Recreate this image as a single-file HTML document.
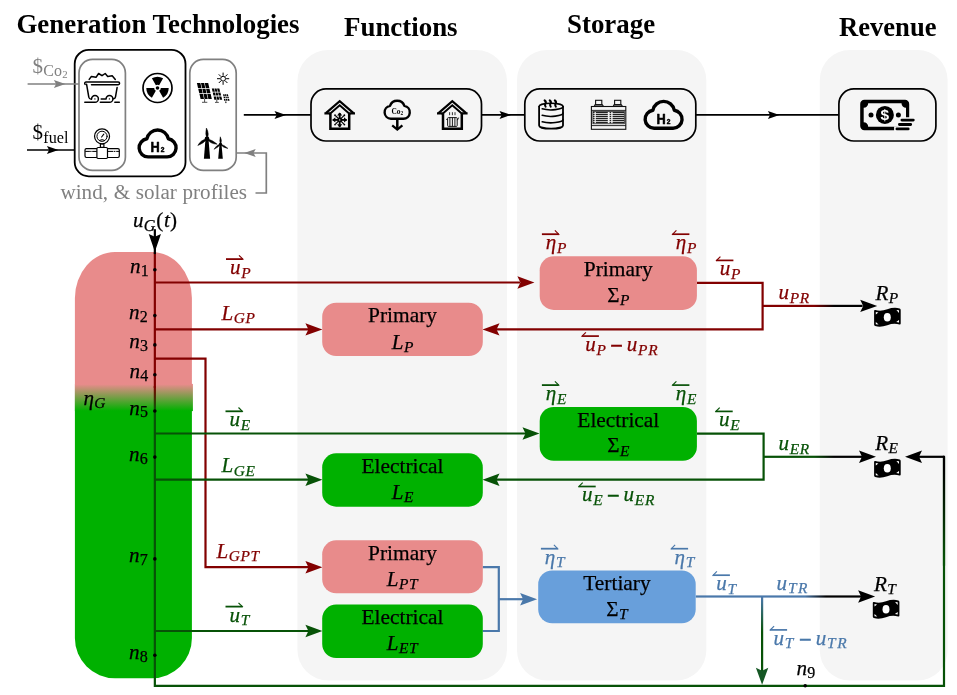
<!DOCTYPE html>
<html lang="en"><head><meta charset="utf-8"><title>Energy system diagram</title>
<style>
html,body{margin:0;padding:0;background:#fff;}
body{width:957px;height:695px;overflow:hidden;}
svg{display:block;will-change:transform;font-family:"Liberation Serif","DejaVu Serif",serif;}
.sans{font-family:"Liberation Sans","DejaVu Sans",sans-serif;}
</style></head><body>
<svg width="957" height="695" viewBox="0 0 957 695">
<defs>
<linearGradient id="gPill" gradientUnits="userSpaceOnUse" x1="0" y1="384.3" x2="0" y2="410.8">
<stop offset="0" stop-color="#e88b8b"/><stop offset="1" stop-color="#00b100"/></linearGradient>
<linearGradient id="gLine" gradientUnits="userSpaceOnUse" x1="0" y1="386" x2="0" y2="410">
<stop offset="0" stop-color="#820000"/><stop offset="1" stop-color="#075207"/></linearGradient>
<linearGradient id="gP" gradientUnits="userSpaceOnUse" x1="814" y1="0" x2="834" y2="0">
<stop offset="0" stop-color="#820000"/><stop offset="1" stop-color="#000"/></linearGradient>
<linearGradient id="gE" gradientUnits="userSpaceOnUse" x1="814" y1="0" x2="834" y2="0">
<stop offset="0" stop-color="#075207"/><stop offset="1" stop-color="#000"/></linearGradient>
<linearGradient id="gT" gradientUnits="userSpaceOnUse" x1="805" y1="0" x2="826" y2="0">
<stop offset="0" stop-color="#4a78aa"/><stop offset="1" stop-color="#000"/></linearGradient>
<linearGradient id="gTd" gradientUnits="userSpaceOnUse" x1="0" y1="598" x2="0" y2="632">
<stop offset="0" stop-color="#4a78aa"/><stop offset="1" stop-color="#075207"/></linearGradient>
<linearGradient id="gR" gradientUnits="userSpaceOnUse" x1="0" y1="470" x2="0" y2="560">
<stop offset="0" stop-color="#000"/><stop offset="1" stop-color="#075207"/></linearGradient>
</defs>
<rect x="297.4" y="50" width="209.60000000000002" height="630.6" rx="31" ry="31" fill="#f5f5f5"/>
<rect x="517" y="50" width="189.29999999999995" height="630.6" rx="30" ry="30" fill="#f5f5f5"/>
<rect x="819.8" y="50" width="127.80000000000007" height="630.6" rx="30" ry="30" fill="#f5f5f5"/>
<text x="16.4" y="33.1" font-size="26.9" font-weight="bold">Generation Technologies</text>
<text x="344" y="35.6" font-size="26.9" font-weight="bold">Functions</text>
<text x="567" y="33.1" font-size="26.9" font-weight="bold">Storage</text>
<text x="839" y="35.6" font-size="26.6" font-weight="bold">Revenue</text>
<rect x="74.7" y="49.9" width="110.8" height="126.4" rx="14" ry="14" fill="none" stroke="#000" stroke-width="1.8"/>
<rect x="79" y="59.4" width="46.400000000000006" height="111.0" rx="13.5" ry="13.5" fill="none" stroke="#808080" stroke-width="1.7"/>
<rect x="189.8" y="59.4" width="46.39999999999998" height="111.0" rx="13.5" ry="13.5" fill="none" stroke="#808080" stroke-width="1.7"/>
<rect x="311" y="88.9" width="170.5" height="52.099999999999994" rx="15" ry="15" fill="none" stroke="#000" stroke-width="1.7"/>
<rect x="524.8" y="88.9" width="171.0" height="52.099999999999994" rx="15" ry="15" fill="none" stroke="#000" stroke-width="1.7"/>
<rect x="838.9" y="88.9" width="97.0" height="52.099999999999994" rx="15" ry="15" fill="none" stroke="#000" stroke-width="1.7"/>
<path d="M27.6 84H79" fill="none" stroke="#808080" stroke-width="1.7" />
<polygon points="65.4,84.0 53.9,80.0 56.1,84.0 53.9,88.0" fill="#808080"/>
<path d="M27 150H74.7" fill="none" stroke="#000" stroke-width="1.7" />
<polygon points="58.4,150.0 46.9,146.0 49.1,150.0 46.9,154.0" fill="#000"/>
<path d="M243.8 114.9H310.7" fill="none" stroke="#000" stroke-width="1.7" />
<polygon points="286.0,114.9 274.5,110.9 276.7,114.9 274.5,118.9" fill="#000"/>
<path d="M481.5 114.9H524.6" fill="none" stroke="#000" stroke-width="1.7" />
<polygon points="511.0,114.9 499.5,110.9 501.7,114.9 499.5,118.9" fill="#000"/>
<path d="M695.6 114.9H838.6" fill="none" stroke="#000" stroke-width="1.7" />
<polygon points="779.4,114.9 767.9,110.9 770.1,114.9 767.9,118.9" fill="#000"/>
<path d="M255.5 193H266.3V153H236.2" fill="none" stroke="#808080" stroke-width="1.7" />
<polygon points="244.2,153.0 255.7,157.0 253.5,153.0 255.7,149.0" fill="#808080"/>
<text x="32.6" y="73.1" fill="#808080" font-size="21">$<tspan font-size="16" dy="3.2" dx="0.2">Co</tspan><tspan font-size="10.8" dy="2.1" dx="0.4">2</tspan></text>
<text x="32.6" y="139.3" fill="#000" font-size="21">$<tspan font-size="16.2" dy="3.2" dx="0.2">fuel</tspan></text>
<text x="60.5" y="199.3" font-size="21.1" word-spacing="0.45" fill="#808080">wind, &amp; solar profiles</text>
<g fill="none" stroke="#000" stroke-width="1.5" stroke-linecap="round" stroke-linejoin="round"><path d="M89.2 79.4L91.4 76.4L96 77.3L98.6 73.5L102 75.7L105.2 73.5L107.7 76.4L112.2 75.7L115.3 79.4"/><path d="M91.5 84.7H118.2A1.4 1.4 0 0 0 118.2 81.9H86A1.4 1.4 0 0 0 85.2 84.4"/><path d="M86.6 84.3L88.8 97.2Q89.3 99.3 91.3 99.3"/><path d="M117.1 87.6L115.5 96.8Q115.2 98.6 113.6 98.8"/><path d="M84.8 102.3H95A3.4 3.4 0 1 0 91.6 98.9"/><path d="M100.3 102.3H109.5A3.4 3.4 0 1 0 106.1 98.9H101.2"/><path d="M114.8 102.3H119.3"/></g><circle cx="94.9" cy="98.9" r="0.7" fill="#000"/><circle cx="109.4" cy="98.9" r="0.7" fill="#000"/>
<circle cx="157.5" cy="88.0" r="14.5" fill="none" stroke="#000" stroke-width="1.7"/><circle cx="157.5" cy="88.0" r="1.8" fill="#000"/><path d="M155.85 85.14L151.90 78.30A11.2 11.2 0 0 1 163.10 78.30L159.15 85.14A3.3 3.3 0 0 0 155.85 85.14Z" fill="#000"/><path d="M160.80 88.00L168.70 88.00A11.2 11.2 0 0 1 163.10 97.70L159.15 90.86A3.3 3.3 0 0 0 160.80 88.00Z" fill="#000"/><path d="M155.85 90.86L151.90 97.70A11.2 11.2 0 0 1 146.30 88.00L154.20 88.00A3.3 3.3 0 0 0 155.85 90.86Z" fill="#000"/>
<g fill="none" stroke="#000" stroke-width="1.2" stroke-linejoin="round" stroke-linecap="round"><circle cx="102.05" cy="136.3" r="7.5"/><circle cx="102.05" cy="136.3" r="5.1" stroke-width="1"/><path d="M101.6 137L103.8 134.2" stroke-width="1.1"/><path d="M99.6 140.3Q102.05 138.8 104.5 140.3" stroke-width="1"/><path d="M100.4 144H103.9V147.4H100.4Z"/><rect x="85" y="148.7" width="34.3" height="8.8" rx="1.4"/><path d="M85.6 151.4H89.5M90.6 151.4H91.2M92.6 151.4H96.5M108 151.4H113M114.4 151.4H115M116.6 151.4H118.8" stroke-width="1"/><rect x="96.9" y="147.5" width="10.6" height="11" rx="1.2" fill="#fff"/></g>
<g transform="translate(0,0.0)"><path d="M148.1 156.9H167.1A9.1 9.1 0 0 0 168.3 138.8A10.9 10.9 0 0 0 146.9 138.8A9.1 9.1 0 0 0 148.1 156.9Z" fill="#fff" stroke="#000" stroke-width="3.4" stroke-linejoin="round"/><text class="sans" transform="translate(150.6,152.4) scale(0.92,1)" font-size="13.9" font-weight="bold" fill="#000" stroke="#000" stroke-width="0.55" stroke-linejoin="round">H<tspan font-size="7.2" dx="0.9">2</tspan></text></g>
<g transform="translate(506,-28.599999999999994)"><path d="M148.1 156.9H167.1A9.1 9.1 0 0 0 168.3 138.8A10.9 10.9 0 0 0 146.9 138.8A9.1 9.1 0 0 0 148.1 156.9Z" fill="#f5f5f5" stroke="#000" stroke-width="3.4" stroke-linejoin="round"/><text class="sans" transform="translate(150.6,152.4) scale(0.92,1)" font-size="13.9" font-weight="bold" fill="#000" stroke="#000" stroke-width="0.55" stroke-linejoin="round">H<tspan font-size="7.2" dx="0.9">2</tspan></text></g>
<polygon points="196.90,83.00 200.37,83.00 201.49,87.88 198.03,87.88" fill="#000"/><polygon points="200.97,83.00 204.13,83.00 205.25,87.88 202.09,87.88" fill="#000"/><polygon points="204.73,83.00 208.20,83.00 209.30,87.88 205.85,87.88" fill="#000"/><polygon points="198.23,88.72 201.69,88.72 202.71,93.18 199.27,93.18" fill="#000"/><polygon points="202.29,88.72 205.44,88.72 206.46,93.18 203.31,93.18" fill="#000"/><polygon points="206.04,88.72 209.50,88.72 210.50,93.18 207.06,93.18" fill="#000"/><polygon points="199.47,94.02 202.91,94.02 204.03,98.90 200.60,98.90" fill="#000"/><polygon points="203.51,94.02 206.65,94.02 207.77,98.90 204.63,98.90" fill="#000"/><polygon points="207.25,94.02 210.70,94.02 211.80,98.90 208.37,98.90" fill="#000"/><polygon points="211.80,88.40 214.05,88.40 214.86,91.82 212.58,91.82" fill="#000"/><polygon points="214.55,88.40 216.55,88.40 217.39,91.82 215.36,91.82" fill="#000"/><polygon points="217.05,88.40 219.30,88.40 220.17,91.82 217.89,91.82" fill="#000"/><polygon points="212.75,92.58 215.04,92.58 215.75,95.62 213.45,95.62" fill="#000"/><polygon points="215.54,92.58 217.57,92.58 218.32,95.62 216.27,95.62" fill="#000"/><polygon points="218.08,92.58 220.36,92.58 221.14,95.62 218.83,95.62" fill="#000"/><polygon points="213.62,96.38 215.93,96.38 216.74,99.80 214.40,99.80" fill="#000"/><polygon points="216.45,96.38 218.50,96.38 219.34,99.80 217.26,99.80" fill="#000"/><polygon points="219.02,96.38 221.33,96.38 222.20,99.80 219.86,99.80" fill="#000"/><polygon points="223.10,94.30 224.48,94.30 224.84,96.16 223.42,96.16" fill="#000"/><polygon points="224.92,94.30 226.08,94.30 226.50,96.16 225.30,96.16" fill="#000"/><polygon points="226.52,94.30 227.90,94.30 228.39,96.16 226.96,96.16" fill="#000"/><polygon points="223.52,96.77 224.96,96.77 225.26,98.33 223.78,98.33" fill="#000"/><polygon points="225.43,96.77 226.64,96.77 226.99,98.33 225.75,98.33" fill="#000"/><polygon points="227.10,96.77 228.55,96.77 228.95,98.33 227.47,98.33" fill="#000"/><polygon points="223.88,98.94 225.38,98.94 225.75,100.80 224.20,100.80" fill="#000"/><polygon points="225.87,98.94 227.13,98.94 227.55,100.80 226.25,100.80" fill="#000"/><polygon points="227.61,98.94 229.11,98.94 229.60,100.80 228.05,100.80" fill="#000"/><g fill="none" stroke="#222" stroke-width="0.8"><path d="M204.6 99V102M202 102.3H207.3M216.8 100V102M215 102.4H218.8M225.8 101.2V102.3M225 102.6H226.6"/></g><circle cx="223.1" cy="78.7" r="2.4" fill="none" stroke="#000" stroke-width="1.0"/><g stroke="#000" stroke-width="1" stroke-linecap="butt"><line x1="226.10" y1="78.70" x2="229.20" y2="78.70"/><line x1="225.22" y1="80.82" x2="227.41" y2="83.01"/><line x1="223.10" y1="81.70" x2="223.10" y2="84.80"/><line x1="220.98" y1="80.82" x2="218.79" y2="83.01"/><line x1="220.10" y1="78.70" x2="217.00" y2="78.70"/><line x1="220.98" y1="76.58" x2="218.79" y2="74.39"/><line x1="223.10" y1="75.70" x2="223.10" y2="72.60"/><line x1="225.22" y1="76.58" x2="227.41" y2="74.39"/></g>
<polygon points="205.5,139 208.5,139 210.1,158.7 203.9,158.7" fill="#000"/><circle cx="207" cy="139" r="2.4" fill="#000"/><path d="M207.00 139.00Q209.73 133.89 206.40 128.00Q204.93 134.15 207.00 139.00Z" fill="#000" stroke="#000" stroke-width="0.5" stroke-linejoin="round"/><path d="M207.00 139.00Q201.13 139.47 197.80 145.50Q203.90 143.40 207.00 139.00Z" fill="#000" stroke="#000" stroke-width="0.5" stroke-linejoin="round"/><path d="M207.00 139.00Q210.23 144.01 217.20 144.20Q212.41 139.74 207.00 139.00Z" fill="#000" stroke="#000" stroke-width="0.5" stroke-linejoin="round"/>
<polygon points="219.5,144.2 221.5,144.2 222.8,158.7 218.2,158.7" fill="#000"/><circle cx="220.5" cy="144.2" r="1.6" fill="#000"/><path d="M220.50 144.20Q222.41 140.82 220.30 136.80Q219.21 140.90 220.50 144.20Z" fill="#000" stroke="#000" stroke-width="0.5" stroke-linejoin="round"/><path d="M220.50 144.20Q216.34 144.92 214.00 149.30Q218.32 147.44 220.50 144.20Z" fill="#000" stroke="#000" stroke-width="0.5" stroke-linejoin="round"/><path d="M220.50 144.20Q222.84 147.83 227.90 148.40Q224.42 145.05 220.50 144.20Z" fill="#000" stroke="#000" stroke-width="0.5" stroke-linejoin="round"/>
<g fill="none" stroke="#000" stroke-linejoin="miter"><path d="M325.9 113.1L339.7 101.1L353.5 113.1" stroke-width="2.2"/><path d="M329.09999999999997 114.5L339.7 105.3L350.3 114.5" stroke-width="2.0"/><path d="M324.4 113.39999999999999H330.09999999999997M355.0 113.39999999999999H349.3" stroke-width="2.2"/><path d="M330.4 113.6V128.7H349.2V113.6" stroke-width="2.5"/></g><g stroke="#000" fill="none" stroke-linecap="butt"><line x1="332.80" y1="119.90" x2="346.60" y2="119.90" stroke-width="1.9"/><line x1="335.46" y1="115.66" x2="343.94" y2="124.14" stroke-width="1.3"/><line x1="339.70" y1="113.00" x2="339.70" y2="126.80" stroke-width="1.9"/><line x1="343.94" y1="115.66" x2="335.46" y2="124.14" stroke-width="1.3"/></g><polygon points="347.20,119.90 344.00,122.50 344.00,117.30" fill="#000"/><circle cx="344.37" cy="124.57" r="0.9" fill="#000"/><polygon points="339.70,127.40 337.10,124.20 342.30,124.20" fill="#000"/><circle cx="335.03" cy="124.57" r="0.9" fill="#000"/><polygon points="332.20,119.90 335.40,117.30 335.40,122.50" fill="#000"/><circle cx="335.03" cy="115.23" r="0.9" fill="#000"/><polygon points="339.70,112.40 342.30,115.60 337.10,115.60" fill="#000"/><circle cx="344.37" cy="115.23" r="0.9" fill="#000"/><circle cx="339.7" cy="119.9" r="2.3" fill="#000"/><circle cx="339.7" cy="119.9" r="0.7" fill="#fff"/>
<g fill="none" stroke="#000" stroke-linejoin="miter"><path d="M438.5 113.1L452.3 101.1L466.1 113.1" stroke-width="2.2"/><path d="M441.7 114.5L452.3 105.3L462.90000000000003 114.5" stroke-width="2.0"/><path d="M437.0 113.39999999999999H442.7M467.6 113.39999999999999H461.90000000000003" stroke-width="2.2"/><path d="M443.0 113.6V128.7H461.8V113.6" stroke-width="2.5"/></g><g fill="none" stroke="#000" stroke-width="0.9"><rect x="447.6" y="117.6" width="9.6" height="8.8" rx="0.8"/><path d="M449.9 117.6V126.4M452.4 117.6V126.4M454.9 117.6V126.4"/><path d="M446.2 119.4H447.6M457.4 120.2L458.6 117.6"/><path d="M449.6 112.2V115.2M452.4 112.2V115.2M455 112.2V115.2" stroke-width="0.8"/></g>
<path d="M390.9 118.8H403.4A6.5 6.5 0 0 0 404.4 105.9A7.6 7.6 0 0 0 390 105.9A6.5 6.5 0 0 0 390.9 118.8Z" fill="none" stroke="#000" stroke-width="2.4" stroke-linejoin="round"/><path d="M397.3 118.9V128.8" fill="none" stroke="#000" stroke-width="2.5"/><path d="M392.2 125.4L397.3 129.6L402.4 125.4" fill="none" stroke="#000" stroke-width="2.3"/><text x="391.5" y="113.9" font-size="7.4" font-weight="bold" fill="#000">Co<tspan font-size="5.4" dy="1.2">2</tspan></text>
<g fill="none" stroke="#000" stroke-width="1.8" stroke-linecap="round"><path d="M539.1 106.6V125.4A11.95 3.3 0 0 0 563 125.4V106.6"/><path d="M539.1 106.6A11.95 3.3 0 0 1 563 106.6" stroke-width="1.6"/><path d="M542.2 108.8A11.95 3.3 0 0 0 563 106.6" stroke-width="1.6"/><path d="M542.2 115.3A11.95 3.3 0 0 0 563 113.1" stroke-width="1.6"/><path d="M542.2 121.7A11.95 3.3 0 0 0 563 119.5" stroke-width="1.6"/><path d="M544.6 100.4Q546.6 102 545.4 103.6Q544.4 105 545.6 106.6M549.7 100.4Q551.7 102 550.5 103.6Q549.5 105 550.7 106.6M554.8 100.4Q556.8 102 555.6 103.6Q554.6 105 555.8 106.6" stroke-width="2.0"/></g>
<g fill="none" stroke="#111" stroke-width="1.1"><rect x="591.4" y="106.5" width="34.4" height="22.8"/><path d="M591.4 110.4H625.8M591.4 125.6H625.8" stroke-width="0.9"/><rect x="595.6" y="100.3" width="6.2" height="4.4"/><rect x="614.6" y="100.3" width="6.2" height="4.4"/><path d="M594.2 106.4L595 104.9H602.4L603.4 106.4M613.2 106.4L614 104.9H621.4L622.4 106.4"/><rect x="592.9" y="111.6" width="31.4" height="12.2" stroke-width="0.7"/></g><g stroke="#222" stroke-width="1.25"><path d="M593 112.50H594.6M595.8 112.50H607.8M609.6 112.50H611.2M612.6 112.50H624.2"/><path d="M593 114.52H594.6M595.8 114.52H607.8M609.6 114.52H611.2M612.6 114.52H624.2"/><path d="M593 116.54H594.6M595.8 116.54H607.8M609.6 116.54H611.2M612.6 116.54H624.2"/><path d="M593 118.56H594.6M595.8 118.56H607.8M609.6 118.56H611.2M612.6 118.56H624.2"/><path d="M593 120.58H594.6M595.8 120.58H607.8M609.6 120.58H611.2M612.6 120.58H624.2"/><path d="M593 122.60H594.6M595.8 122.60H607.8M609.6 122.60H611.2M612.6 122.60H624.2"/></g>
<path fill-rule="evenodd" fill="#000" d="M864.4 99.8H905A4.2 4.2 0 0 1 909.2 104V126.1A4.2 4.2 0 0 1 905 130.3H864.4A4.2 4.2 0 0 1 860.2 126.1V104A4.2 4.2 0 0 1 864.4 99.8ZM868.2 103.3H901.5A4.5 4.5 0 0 0 906.0 107.8V122.3A4.5 4.5 0 0 0 901.5 126.8H868.2A4.5 4.5 0 0 0 863.7 122.3V107.8A4.5 4.5 0 0 0 868.2 103.3Z"/><path d="M894.1 131V126.6H903V117.5H910V131Z" fill="#f5f5f5"/><circle cx="884.9" cy="114.9" r="9.0" fill="#000"/><circle cx="871" cy="114.9" r="2.5" fill="#000"/><circle cx="898.4" cy="114.9" r="2.5" fill="#000"/><text class="sans" x="884.9" y="120.3" font-size="15.4" font-weight="bold" fill="#fff" text-anchor="middle">$</text><g stroke="#f5f5f5" stroke-width="5" stroke-linecap="round"><path d="M902 120.1H913.3M899.5 124.5H910.7"/></g><g stroke="#000" stroke-width="2.8" stroke-linecap="round"><path d="M901.9 120.1H913.3M899.4 124.5H910.7M896.9 128.9H908.2"/></g>
<g transform="translate(873.8,307.7)"><path fill="#000" d="M0.3 3.2Q0.3 2 1.5 2.3Q7 4 13.5 1.6Q20 -0.8 25.8 0.7Q26.9 1 26.9 2.2V15.9Q26.9 17.1 25.7 16.8Q20 15.1 13.5 17.5Q7 19.9 1.4 18.4Q0.3 18.1 0.3 16.9Z"/><ellipse cx="13.5" cy="9.6" rx="3.5" ry="4.3" fill="#fff"/><path fill="#fff" d="M2 4.3L4.6 4.8L2 6.9ZM25.2 2.6L22.6 2.3L25.2 5.2ZM2 16.5L4.8 16.9L2 14.2ZM25.2 14.8L22.4 14.4L25.2 12.2Z"/></g>
<g transform="translate(873.8,458.7)"><path fill="#000" d="M0.3 3.2Q0.3 2 1.5 2.3Q7 4 13.5 1.6Q20 -0.8 25.8 0.7Q26.9 1 26.9 2.2V15.9Q26.9 17.1 25.7 16.8Q20 15.1 13.5 17.5Q7 19.9 1.4 18.4Q0.3 18.1 0.3 16.9Z"/><ellipse cx="13.5" cy="9.6" rx="3.5" ry="4.3" fill="#fff"/><path fill="#fff" d="M2 4.3L4.6 4.8L2 6.9ZM25.2 2.6L22.6 2.3L25.2 5.2ZM2 16.5L4.8 16.9L2 14.2ZM25.2 14.8L22.4 14.4L25.2 12.2Z"/></g>
<g transform="translate(872.5,599.7)"><path fill="#000" d="M0.3 3.2Q0.3 2 1.5 2.3Q7 4 13.5 1.6Q20 -0.8 25.8 0.7Q26.9 1 26.9 2.2V15.9Q26.9 17.1 25.7 16.8Q20 15.1 13.5 17.5Q7 19.9 1.4 18.4Q0.3 18.1 0.3 16.9Z"/><ellipse cx="13.5" cy="9.6" rx="3.5" ry="4.3" fill="#fff"/><path fill="#fff" d="M2 4.3L4.6 4.8L2 6.9ZM25.2 2.6L22.6 2.3L25.2 5.2ZM2 16.5L4.8 16.9L2 14.2ZM25.2 14.8L22.4 14.4L25.2 12.2Z"/></g>
<path d="M74.9 298.1A40 46 0 0 1 114.9 252.1H151.9A40 46 0 0 1 191.9 298.1V638.2A40 40 0 0 1 151.9 678.2H114.9A40 40 0 0 1 74.9 638.2Z" fill="url(#gPill)"/>
<rect x="74.9" y="383.9" width="118.0" height="27.2" fill="url(#gPill)"/>
<path d="M154.85 252.2V388" fill="none" stroke="#820000" stroke-width="2.2" />
<path d="M154.85 229.2V254.1" fill="none" stroke="#000" stroke-width="2.2" />
<polygon points="154.85,251.7 160.95,234.0 154.85,236.8 148.75,234.0" fill="#000"/>
<rect x="153.75" y="386" width="2.2" height="26" fill="url(#gLine)"/>
<path d="M154.85 411V685.8H944V456.8" fill="none" stroke="#075207" stroke-width="2.2" />
<rect x="942.9" y="455.75" width="2.2" height="110" fill="url(#gR)"/>
<path d="M944 456.8H915" fill="none" stroke="#000" stroke-width="2.2" />
<polygon points="905.0,456.8 922.0,463.0 919.0,456.8 922.0,450.6" fill="#000"/>
<path d="M154.85 282.5H520" fill="none" stroke="#820000" stroke-width="2.2" />
<polygon points="534.4,282.5 517.4,276.3 520.4,282.5 517.4,288.7" fill="#820000"/>
<path d="M154.85 329.4H310" fill="none" stroke="#820000" stroke-width="2.2" />
<polygon points="322.4,329.4 305.4,323.2 308.4,329.4 305.4,335.6" fill="#820000"/>
<path d="M154.85 358.6H205.5V567.2H310" fill="none" stroke="#820000" stroke-width="2.2" />
<polygon points="322.4,567.2 305.4,561.0 308.4,567.2 305.4,573.4" fill="#820000"/>
<path d="M696.9 282.9H762.6V329.4H495" fill="none" stroke="#820000" stroke-width="2.2" />
<polygon points="482.5,329.4 499.5,335.6 496.5,329.4 499.5,323.2" fill="#820000"/>
<rect x="762.6" y="304.79999999999995" width="100" height="2.2" fill="url(#gP)"/>
<polygon points="877.2,305.9 860.2,299.7 863.2,305.9 860.2,312.1" fill="#000"/>
<path d="M154.85 433.5H526" fill="none" stroke="#075207" stroke-width="2.2" />
<polygon points="539.5,433.5 522.5,427.3 525.5,433.5 522.5,439.7" fill="#075207"/>
<path d="M154.85 479.7H310" fill="none" stroke="#075207" stroke-width="2.2" />
<polygon points="322.4,479.7 305.4,473.5 308.4,479.7 305.4,485.9" fill="#075207"/>
<path d="M154.85 631H310" fill="none" stroke="#075207" stroke-width="2.2" />
<polygon points="322.4,631.0 305.4,624.8 308.4,631.0 305.4,637.2" fill="#075207"/>
<path d="M696.9 433.7H763.6V479.7H495" fill="none" stroke="#075207" stroke-width="2.2" />
<polygon points="482.5,479.7 499.5,485.9 496.5,479.7 499.5,473.5" fill="#075207"/>
<rect x="763.6" y="455.7" width="100" height="2.2" fill="url(#gE)"/>
<polygon points="876.0,456.8 859.0,450.6 862.0,456.8 859.0,463.0" fill="#000"/>
<path d="M482.6 567.2H498.8V631H482.6" fill="none" stroke="#4a78aa" stroke-width="2.2" />
<path d="M498.8 599.2H524" fill="none" stroke="#4a78aa" stroke-width="2.2" />
<polygon points="537.1,599.2 520.1,593.0 523.1,599.2 520.1,605.4" fill="#4a78aa"/>
<rect x="695.7" y="595.4" width="166" height="2.2" fill="url(#gT)"/>
<polygon points="875.1,596.5 858.1,590.3 861.1,596.5 858.1,602.7" fill="#000"/>
<rect x="761.0" y="596.5" width="2.2" height="75" fill="url(#gTd)"/>
<polygon points="762.1,684.7 768.3,667.7 762.1,670.7 755.9,667.7" fill="#155724"/>
<rect x="322.2" y="302.7" width="160.60000000000002" height="53.400000000000034" rx="14" ry="14" fill="#e88b8b"/>
<text x="402.5" y="322.4" font-size="21.4" text-anchor="middle" stroke="#000" stroke-width="0.25">Primary</text>
<text x="402.5" y="348.6" fill="#000" stroke="#000" stroke-width="0.25" font-size="21.1" text-anchor="middle"><tspan font-style="italic" font-size="21.1">L</tspan><tspan font-style="italic" font-size="15.4" dy="3.5" dx="0.5">P</tspan></text>
<rect x="322.2" y="453.3" width="160.60000000000002" height="53.39999999999998" rx="14" ry="14" fill="#00b100"/>
<text x="402.5" y="472.6" font-size="21.4" text-anchor="middle" stroke="#000" stroke-width="0.25">Electrical</text>
<text x="402.5" y="498.8" fill="#000" stroke="#000" stroke-width="0.25" font-size="21.1" text-anchor="middle"><tspan font-style="italic" font-size="21.1">L</tspan><tspan font-style="italic" font-size="15.4" dy="3.5" dx="0.5">E</tspan></text>
<rect x="322.2" y="540.3" width="160.60000000000002" height="53.0" rx="14" ry="14" fill="#e88b8b"/>
<text x="402.5" y="559.8" font-size="21.4" text-anchor="middle" stroke="#000" stroke-width="0.25">Primary</text>
<text x="402.5" y="585.9" fill="#000" stroke="#000" stroke-width="0.25" font-size="21.1" text-anchor="middle"><tspan font-style="italic" font-size="21.1">L</tspan><tspan font-style="italic" font-size="15.4" letter-spacing="0.7" dy="3.5" dx="0.5">PT</tspan></text>
<rect x="322.2" y="604.6" width="160.60000000000002" height="53.5" rx="14" ry="14" fill="#00b100"/>
<text x="402.5" y="623.8" font-size="21.4" text-anchor="middle" stroke="#000" stroke-width="0.25">Electrical</text>
<text x="402.5" y="649.8" fill="#000" stroke="#000" stroke-width="0.25" font-size="21.1" text-anchor="middle"><tspan font-style="italic" font-size="21.1">L</tspan><tspan font-style="italic" font-size="15.4" letter-spacing="0.7" dy="3.5" dx="0.5">ET</tspan></text>
<rect x="539.7" y="256.3" width="157.19999999999993" height="53.599999999999966" rx="14" ry="14" fill="#e88b8b"/>
<text x="618.3" y="276" font-size="21.4" text-anchor="middle" stroke="#000" stroke-width="0.25">Primary</text>
<text x="618.3" y="301.8" fill="#000" stroke="#000" stroke-width="0.25" font-size="21.1" text-anchor="middle"><tspan font-style="normal" font-size="21.1">Σ</tspan><tspan font-style="italic" font-size="15.4" dy="3.5" dx="0.5">P</tspan></text>
<rect x="539.7" y="407" width="157.19999999999993" height="53.80000000000001" rx="14" ry="14" fill="#00b100"/>
<text x="618.3" y="426.6" font-size="21.4" text-anchor="middle" stroke="#000" stroke-width="0.25">Electrical</text>
<text x="618.3" y="452.4" fill="#000" stroke="#000" stroke-width="0.25" font-size="21.1" text-anchor="middle"><tspan font-style="normal" font-size="21.1">Σ</tspan><tspan font-style="italic" font-size="15.4" dy="3.5" dx="0.5">E</tspan></text>
<rect x="538.2" y="570.4" width="157.5" height="52.89999999999998" rx="14" ry="14" fill="#689fdb"/>
<text x="616.95" y="590" font-size="21.4" text-anchor="middle" stroke="#000" stroke-width="0.25">Tertiary</text>
<text x="616.95" y="615.7" fill="#000" stroke="#000" stroke-width="0.25" font-size="21.1" text-anchor="middle"><tspan font-style="normal" font-size="21.1">Σ</tspan><tspan font-style="italic" font-size="15.4" dy="3.5" dx="0.5">T</tspan></text>
<circle cx="154.85" cy="269.8" r="1.8" fill="#000"/>
<text x="130.0" y="273.3" fill="#000" stroke="#000" stroke-width="0.25" font-size="21.1" text-anchor="start"><tspan font-style="italic" font-size="21.1">n</tspan><tspan font-style="normal" font-size="16.0" dy="2.9" dx="0.3">1</tspan></text>
<circle cx="154.85" cy="315.6" r="1.8" fill="#000"/>
<text x="129.0" y="319.1" fill="#000" stroke="#000" stroke-width="0.25" font-size="21.1" text-anchor="start"><tspan font-style="italic" font-size="21.1">n</tspan><tspan font-style="normal" font-size="16.0" dy="2.9" dx="0.3">2</tspan></text>
<circle cx="154.85" cy="344.9" r="1.8" fill="#000"/>
<text x="129.2" y="348.4" fill="#000" stroke="#000" stroke-width="0.25" font-size="21.1" text-anchor="start"><tspan font-style="italic" font-size="21.1">n</tspan><tspan font-style="normal" font-size="16.0" dy="2.9" dx="0.3">3</tspan></text>
<circle cx="154.85" cy="374.8" r="1.8" fill="#000"/>
<text x="129.4" y="378.3" fill="#000" stroke="#000" stroke-width="0.25" font-size="21.1" text-anchor="start"><tspan font-style="italic" font-size="21.1">n</tspan><tspan font-style="normal" font-size="16.0" dy="2.9" dx="0.3">4</tspan></text>
<circle cx="154.85" cy="411.0" r="1.8" fill="#000"/>
<text x="129.2" y="414.5" fill="#000" stroke="#000" stroke-width="0.25" font-size="21.1" text-anchor="start"><tspan font-style="italic" font-size="21.1">n</tspan><tspan font-style="normal" font-size="16.0" dy="2.9" dx="0.3">5</tspan></text>
<circle cx="154.85" cy="457.1" r="1.8" fill="#000"/>
<text x="128.9" y="460.6" fill="#000" stroke="#000" stroke-width="0.25" font-size="21.1" text-anchor="start"><tspan font-style="italic" font-size="21.1">n</tspan><tspan font-style="normal" font-size="16.0" dy="2.9" dx="0.3">6</tspan></text>
<circle cx="154.85" cy="558.9" r="1.8" fill="#000"/>
<text x="129.0" y="562.4" fill="#000" stroke="#000" stroke-width="0.25" font-size="21.1" text-anchor="start"><tspan font-style="italic" font-size="21.1">n</tspan><tspan font-style="normal" font-size="16.0" dy="2.9" dx="0.3">7</tspan></text>
<circle cx="154.85" cy="655.3" r="1.8" fill="#000"/>
<text x="129.0" y="658.8" fill="#000" stroke="#000" stroke-width="0.25" font-size="21.1" text-anchor="start"><tspan font-style="italic" font-size="21.1">n</tspan><tspan font-style="normal" font-size="16.0" dy="2.9" dx="0.3">8</tspan></text>
<circle cx="805.2" cy="685.8" r="1.8" fill="#000"/>
<text x="796.5" y="675" fill="#000" stroke="#000" stroke-width="0.25" font-size="21.1" text-anchor="start"><tspan font-style="italic" font-size="21.1">n</tspan><tspan font-style="normal" font-size="16.0" dy="2.9" dx="0.3">9</tspan></text>
<text x="83.6" y="404.6" fill="#000" stroke="#000" stroke-width="0.25" font-size="21.1" text-anchor="start"><tspan font-style="italic" font-size="21.1">η</tspan><tspan font-style="italic" font-size="15.4" dy="3.5" dx="0.3">G</tspan></text>
<text x="133" y="227" fill="#000" stroke="#000" stroke-width="0.25" font-size="21.1" text-anchor="start"><tspan font-style="italic" font-size="21.1">u</tspan><tspan font-style="italic" font-size="16.2" dy="3.5" dx="0.1">G</tspan><tspan font-style="normal" font-size="21.1" dy="-3.5" dx="1.0">(</tspan><tspan font-style="italic" font-size="21.1" dx="0.5">t</tspan><tspan font-style="normal" font-size="21.1" dx="0.3">)</tspan></text>
<text x="229.9" y="274" fill="#820000" stroke="#820000" stroke-width="0.25" font-size="21.1" text-anchor="start"><tspan font-style="italic" font-size="21.1">u</tspan><tspan font-style="italic" font-size="15.4" dy="3.5" dx="0.8">P</tspan></text>
<path d="M226.0 259.1H242.79999999999998" fill="none" stroke="#820000" stroke-width="1.8"/><path d="M239.0 255.3L243.4 259.70000000000005" fill="none" stroke="#820000" stroke-width="1.15"/>
<text x="221.6" y="319.5" fill="#820000" stroke="#820000" stroke-width="0.25" font-size="21.1" text-anchor="start"><tspan font-style="italic" font-size="21.1">L</tspan><tspan font-style="italic" font-size="15.4" letter-spacing="0.7" dy="3.5" dx="0.3">GP</tspan></text>
<text x="229.4" y="426.2" fill="#075207" stroke="#075207" stroke-width="0.25" font-size="21.1" text-anchor="start"><tspan font-style="italic" font-size="21.1">u</tspan><tspan font-style="italic" font-size="15.4" dy="3.5" dx="0.8">E</tspan></text>
<path d="M225.5 411.3H242.29999999999998" fill="none" stroke="#075207" stroke-width="1.8"/><path d="M238.5 407.5L242.9 411.90000000000003" fill="none" stroke="#075207" stroke-width="1.15"/>
<text x="221.6" y="472.1" fill="#075207" stroke="#075207" stroke-width="0.25" font-size="21.1" text-anchor="start"><tspan font-style="italic" font-size="21.1">L</tspan><tspan font-style="italic" font-size="15.4" letter-spacing="0.7" dy="3.5" dx="0.3">GE</tspan></text>
<text x="216.6" y="557.8" fill="#820000" stroke="#820000" stroke-width="0.25" font-size="21.1" text-anchor="start"><tspan font-style="italic" font-size="21.1">L</tspan><tspan font-style="italic" font-size="15.4" letter-spacing="0.7" dy="3.5" dx="0.3">GPT</tspan></text>
<text x="229.4" y="621.5" fill="#075207" stroke="#075207" stroke-width="0.25" font-size="21.1" text-anchor="start"><tspan font-style="italic" font-size="21.1">u</tspan><tspan font-style="italic" font-size="15.4" dy="3.5" dx="0.8">T</tspan></text>
<path d="M225.5 606.6H242.29999999999998" fill="none" stroke="#075207" stroke-width="1.8"/><path d="M238.5 602.8000000000001L242.9 607.2" fill="none" stroke="#075207" stroke-width="1.15"/>
<text x="545.8" y="249.1" fill="#820000" stroke="#820000" stroke-width="0.25" font-size="21.1" text-anchor="start"><tspan font-style="italic" font-size="21.1">η</tspan><tspan font-style="italic" font-size="15.4" dy="3.5" dx="0.8">P</tspan></text>
<path d="M541.9 234.2H558.7" fill="none" stroke="#820000" stroke-width="1.8"/><path d="M554.9 230.39999999999998L559.3 234.79999999999998" fill="none" stroke="#820000" stroke-width="1.15"/>
<text x="675.7" y="249.1" fill="#820000" stroke="#820000" stroke-width="0.25" font-size="21.1" text-anchor="start"><tspan font-style="italic" font-size="21.1">η</tspan><tspan font-style="italic" font-size="15.4" dy="3.5" dx="0.8">P</tspan></text>
<path d="M689.4000000000001 234.2H672.6" fill="none" stroke="#820000" stroke-width="1.7"/><path d="M676.4000000000001 230.39999999999998L672.0000000000001 234.79999999999998" fill="none" stroke="#820000" stroke-width="1.15"/>
<text x="545.8" y="400" fill="#075207" stroke="#075207" stroke-width="0.25" font-size="21.1" text-anchor="start"><tspan font-style="italic" font-size="21.1">η</tspan><tspan font-style="italic" font-size="15.4" dy="3.5" dx="0.8">E</tspan></text>
<path d="M541.9 385.1H558.7" fill="none" stroke="#075207" stroke-width="1.8"/><path d="M554.9 381.3L559.3 385.70000000000005" fill="none" stroke="#075207" stroke-width="1.15"/>
<text x="675.7" y="400" fill="#075207" stroke="#075207" stroke-width="0.25" font-size="21.1" text-anchor="start"><tspan font-style="italic" font-size="21.1">η</tspan><tspan font-style="italic" font-size="15.4" dy="3.5" dx="0.8">E</tspan></text>
<path d="M689.4000000000001 385.1H672.6" fill="none" stroke="#075207" stroke-width="1.7"/><path d="M676.4000000000001 381.3L672.0000000000001 385.70000000000005" fill="none" stroke="#075207" stroke-width="1.15"/>
<text x="544.8" y="563.6" fill="#4a78aa" stroke="#4a78aa" stroke-width="0.25" font-size="21.1" text-anchor="start"><tspan font-style="italic" font-size="21.1">η</tspan><tspan font-style="italic" font-size="15.4" dy="3.5" dx="0.8">T</tspan></text>
<path d="M540.9 548.7H557.7" fill="none" stroke="#4a78aa" stroke-width="1.8"/><path d="M553.9 544.9000000000001L558.3 549.3000000000001" fill="none" stroke="#4a78aa" stroke-width="1.15"/>
<text x="674.4" y="563.6" fill="#4a78aa" stroke="#4a78aa" stroke-width="0.25" font-size="21.1" text-anchor="start"><tspan font-style="italic" font-size="21.1">η</tspan><tspan font-style="italic" font-size="15.4" dy="3.5" dx="0.8">T</tspan></text>
<path d="M688.1 548.7H671.3" fill="none" stroke="#4a78aa" stroke-width="1.7"/><path d="M675.1 544.9000000000001L670.7 549.3000000000001" fill="none" stroke="#4a78aa" stroke-width="1.15"/>
<text x="719.7" y="275.3" fill="#820000" stroke="#820000" stroke-width="0.25" font-size="21.1" text-anchor="start"><tspan font-style="italic" font-size="21.1">u</tspan><tspan font-style="italic" font-size="15.4" dy="3.5" dx="0.8">P</tspan></text>
<path d="M733.4000000000001 260.40000000000003H716.6" fill="none" stroke="#820000" stroke-width="1.7"/><path d="M720.4000000000001 256.6L716.0000000000001 261.00000000000006" fill="none" stroke="#820000" stroke-width="1.15"/>
<text x="719.0" y="426.3" fill="#075207" stroke="#075207" stroke-width="0.25" font-size="21.1" text-anchor="start"><tspan font-style="italic" font-size="21.1">u</tspan><tspan font-style="italic" font-size="15.4" dy="3.5" dx="0.8">E</tspan></text>
<path d="M732.7 411.40000000000003H715.9" fill="none" stroke="#075207" stroke-width="1.7"/><path d="M719.7 407.6L715.3000000000001 412.00000000000006" fill="none" stroke="#075207" stroke-width="1.15"/>
<text x="716.2" y="590.1" fill="#4a78aa" stroke="#4a78aa" stroke-width="0.25" font-size="21.1" text-anchor="start"><tspan font-style="italic" font-size="21.1">u</tspan><tspan font-style="italic" font-size="15.4" dy="3.5" dx="0.8">T</tspan></text>
<path d="M729.9000000000001 575.2H713.1" fill="none" stroke="#4a78aa" stroke-width="1.7"/><path d="M716.9000000000001 571.4000000000001L712.5000000000001 575.8000000000001" fill="none" stroke="#4a78aa" stroke-width="1.15"/>
<text x="778.4" y="299.3" fill="#820000" stroke="#820000" stroke-width="0.25" font-size="21.1" text-anchor="start"><tspan font-style="italic" font-size="21.1">u</tspan><tspan font-style="italic" font-size="15.4" letter-spacing="0.7" dy="3.5" dx="0.8">PR</tspan></text>
<text x="778.4" y="450.2" fill="#075207" stroke="#075207" stroke-width="0.25" font-size="21.1" text-anchor="start"><tspan font-style="italic" font-size="21.1">u</tspan><tspan font-style="italic" font-size="15.4" letter-spacing="0.7" dy="3.5" dx="0.8">ER</tspan></text>
<text x="776.6" y="589.6" fill="#4a78aa" stroke="#4a78aa" stroke-width="0.25" font-size="21.1" text-anchor="start"><tspan font-style="italic" font-size="21.1">u</tspan><tspan font-style="italic" font-size="15.4" dy="3.5" dx="0.8">T</tspan><tspan font-style="italic" font-size="15.4" dx="1.6">R</tspan></text>
<text x="585.2" y="351" fill="#820000" stroke="#820000" stroke-width="0.25" font-size="21.1" text-anchor="start"><tspan font-style="italic" font-size="21.1">u</tspan><tspan font-style="italic" font-size="15.4" dy="3.5" dx="0.8">P</tspan><tspan font-style="normal" font-size="22.37" font-weight="bold" stroke="#820000" stroke-width="0.5" dy="-1.5" dx="4.3">−</tspan><tspan font-style="italic" font-size="21.1" dy="-2.0" dx="3.7">u</tspan><tspan font-style="italic" font-size="15.4" letter-spacing="0.7" dy="3.5" dx="0.8">PR</tspan></text>
<path d="M598.9000000000001 336.1H582.1" fill="none" stroke="#820000" stroke-width="1.7"/><path d="M585.9000000000001 332.3L581.5000000000001 336.70000000000005" fill="none" stroke="#820000" stroke-width="1.15"/>
<text x="582" y="501.4" fill="#075207" stroke="#075207" stroke-width="0.25" font-size="21.1" text-anchor="start"><tspan font-style="italic" font-size="21.1">u</tspan><tspan font-style="italic" font-size="15.4" dy="3.5" dx="0.8">E</tspan><tspan font-style="normal" font-size="22.37" font-weight="bold" stroke="#075207" stroke-width="0.5" dy="-1.5" dx="4.3">−</tspan><tspan font-style="italic" font-size="21.1" dy="-2.0" dx="3.7">u</tspan><tspan font-style="italic" font-size="15.4" letter-spacing="0.7" dy="3.5" dx="0.8">ER</tspan></text>
<path d="M595.7 486.5H578.9" fill="none" stroke="#075207" stroke-width="1.7"/><path d="M582.7 482.7L578.3000000000001 487.1" fill="none" stroke="#075207" stroke-width="1.15"/>
<text x="773.4" y="644.8" fill="#4a78aa" stroke="#4a78aa" stroke-width="0.25" font-size="21.1" text-anchor="start"><tspan font-style="italic" font-size="21.1">u</tspan><tspan font-style="italic" font-size="15.4" dy="3.5" dx="0.8">T</tspan><tspan font-style="normal" font-size="22.37" font-weight="bold" stroke="#4a78aa" stroke-width="0.5" dy="-1.5" dx="5.6">−</tspan><tspan font-style="italic" font-size="21.1" dy="-2.0" dx="4.0">u</tspan><tspan font-style="italic" font-size="15.4" dy="3.5" dx="0.8">T</tspan><tspan font-style="italic" font-size="15.4" dx="1.6">R</tspan></text>
<path d="M787.1 629.9H770.3" fill="none" stroke="#4a78aa" stroke-width="1.7"/><path d="M774.1 626.1L769.7 630.5" fill="none" stroke="#4a78aa" stroke-width="1.15"/>
<text x="875.6" y="299.8" fill="#000" stroke="#000" stroke-width="0.25" font-size="21.1" text-anchor="start"><tspan font-style="italic" font-size="21.1">R</tspan><tspan font-style="italic" font-size="15.4" dy="3.5" dx="0.3">P</tspan></text>
<text x="875.2" y="449.7" fill="#000" stroke="#000" stroke-width="0.25" font-size="21.1" text-anchor="start"><tspan font-style="italic" font-size="21.1">R</tspan><tspan font-style="italic" font-size="15.4" dy="3.5" dx="0.3">E</tspan></text>
<text x="874.0" y="590.6" fill="#000" stroke="#000" stroke-width="0.25" font-size="21.1" text-anchor="start"><tspan font-style="italic" font-size="21.1">R</tspan><tspan font-style="italic" font-size="15.4" dy="3.5" dx="0.3">T</tspan></text>
</svg>
</body></html>
